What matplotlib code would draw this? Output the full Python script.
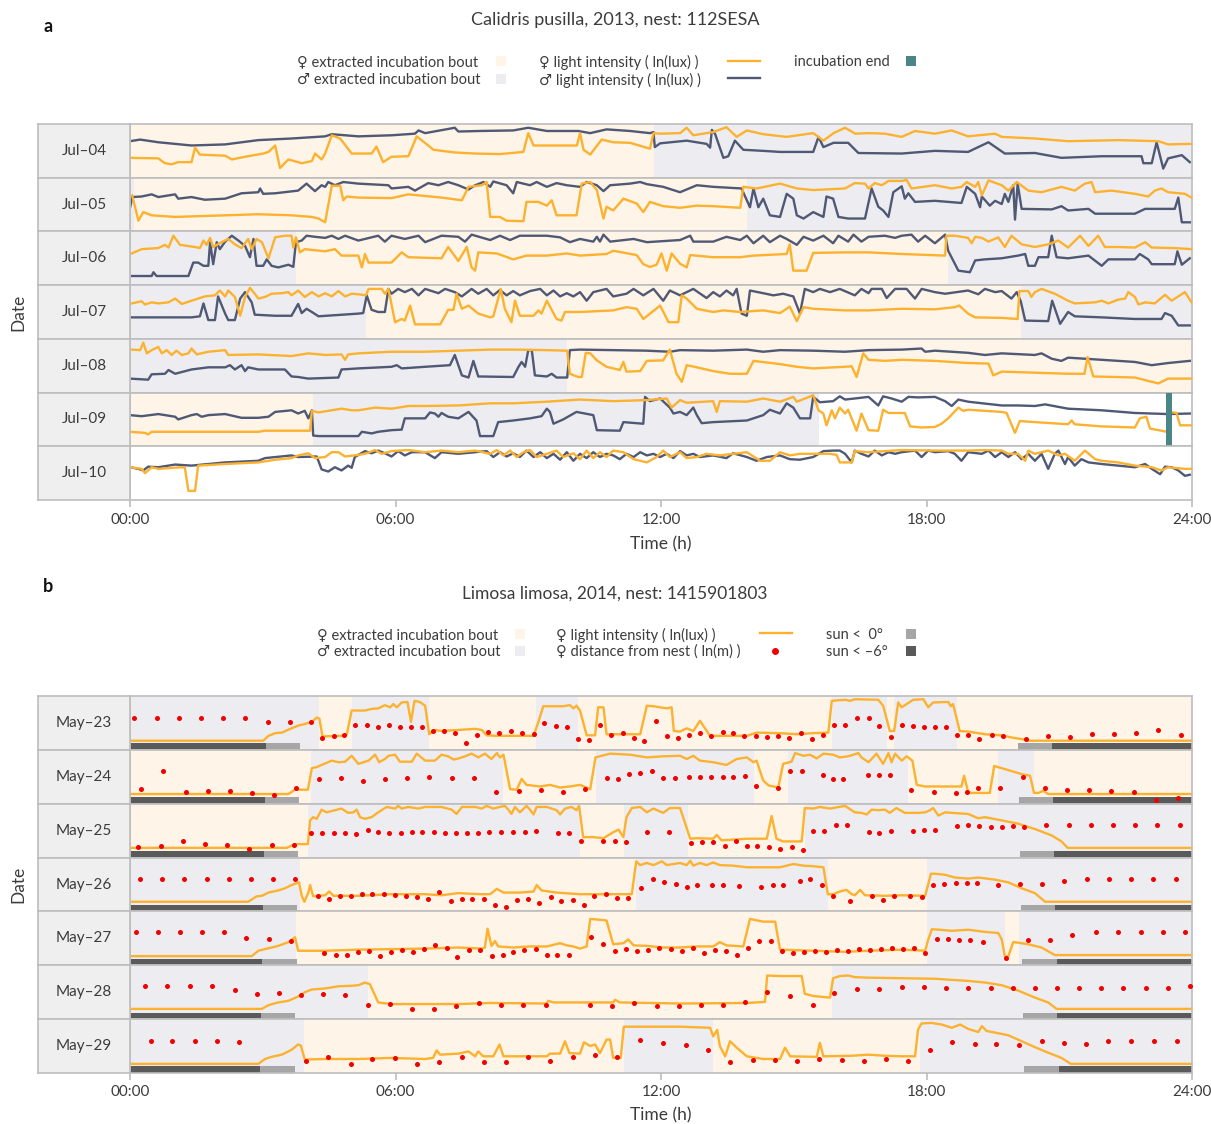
import matplotlib
matplotlib.use("Agg")
import matplotlib.pyplot as plt
from matplotlib.patches import Rectangle
from matplotlib.lines import Line2D

plt.rcParams['font.family'] = ['Lato', 'DejaVu Sans']

# ---------------- panel a : Calidris pusilla (hour, relative ln(lux)) ----------------
days_a = ["Jul–04", "Jul–05", "Jul–06", "Jul–07", "Jul–08", "Jul–09", "Jul–10"]

jul04_bouts = [(0, 11.84, 'f'), (11.84, 24, 'm')]
jul05_bouts = [(0, 0.08, 'm'), (0.08, 13.94, 'f'), (13.94, 24, 'm')]
jul06_bouts = [(0, 3.75, 'm'), (3.75, 18.49, 'f'), (18.49, 24, 'm')]
jul07_bouts = [(0, 5.33, 'm'), (5.33, 20.13, 'f'), (20.13, 24, 'm')]
jul08_bouts = [(0, 9.88, 'm'), (9.88, 24, 'f')]
jul09_bouts = [(0, 4.14, 'f'), (4.14, 15.56, 'm')]
jul10_bouts = []
incubation_end = (5, 23.41, 23.55)  # row index, start, end

jul04_f = [(0,3.7),(0.64,3.6),(0.79,2.7),(0.94,2.5),(1.09,2.9),(1.39,2.9),(1.47,5.6),(1.58,4.3),(2.15,4.1),(2.3,3.4),(2.6,3.9),(3.01,4.5),(3.13,4.8),(3.28,6.0),(3.39,1.8),(3.58,3.4),(3.88,2.7),(4.11,3.1),(4.18,4.5),(4.33,3.4),(4.41,4.5),(4.56,7.9),(4.75,7.3),(5.01,4.5),(5.46,4.5),(5.57,5.8),(5.72,2.9),(5.91,3.9),(6.29,4.0),(6.48,7.7),(6.86,5.2),(7.34,4.7),(7.8,4.5),(8.36,4.4),(8.89,4.8),(9.0,8.3),(9.12,6.0),(9.42,6.0),(10.1,6.0),(10.17,8.3),(10.25,5.2),(10.4,4.3),(10.66,7.1),(10.92,6.6),(11.3,6.5),(11.75,5.4),(11.83,8.3),(11.98,8.2),(12.43,8.3),(12.58,9.3),(12.73,7.9),(13.18,8.5),(13.48,9.4),(13.71,7.6),(13.94,8.8),(14.31,8.1),(14.84,7.6),(15.44,8.3),(15.67,6.9),(15.9,8.3),(16.16,9.3),(16.39,8.2),(16.69,8.3),(17.06,8.2),(17.44,7.6),(17.74,8.7),(18.19,8.2),(18.57,8.8),(18.94,7.7),(19.55,8.2),(19.7,7.6),(20.45,7.3),(21.2,6.8),(22.33,7.0),(23.24,6.8),(23.46,6.2),(23.99,6.3)]
jul04_m = [(0,6.8),(0.23,7.1),(0.64,6.6),(1.39,6.0),(2.15,6.2),(2.9,7.0),(3.65,7.3),(4.41,7.7),(4.56,8.1),(5.16,7.7),(5.91,7.9),(6.44,8.2),(6.52,8.8),(6.67,8.3),(7.34,9.3),(7.42,8.6),(7.91,8.7),(8.66,8.8),(9.0,9.3),(9.42,8.7),(10.13,8.7),(10.4,8.3),(10.77,9.0),(11.3,8.7),(11.75,8.3),(11.83,8.5),(11.86,5.7),(11.98,6.4),(12.58,6.9),(13.03,6.3),(13.11,5.6),(13.15,8.9),(13.22,8.2),(13.41,3.7),(13.52,4.0),(13.67,6.9),(13.86,5.2),(14.31,5.0),(14.69,4.8),(15.44,4.8),(15.56,7.6),(15.67,5.7),(15.9,6.5),(16.23,6.5),(16.46,4.6),(17.44,4.5),(18.19,5.0),(18.94,4.8),(19.4,6.6),(19.77,4.5),(20.45,4.6),(21.05,3.7),(21.96,4.0),(22.86,4.0),(22.9,2.7),(23.09,2.7),(23.2,6.6),(23.35,1.7),(23.46,3.6),(23.77,4.2),(23.95,2.9)]

jul05_f = [(0.05,6.7),(0.19,2.0),(0.3,3.6),(0.49,3.0),(1.02,2.7),(1.39,2.8),(2.15,3.0),(2.9,3.2),(3.65,3.0),(4.11,2.7),(4.26,2.4),(4.41,1.7),(4.56,8.5),(4.75,8.5),(4.82,5.8),(4.9,6.5),(5.16,6.3),(5.91,6.2),(6.29,6.9),(7.04,6.3),(7.5,5.8),(7.65,8.3),(7.95,8.6),(8.06,9.2),(8.14,2.7),(8.36,2.7),(8.51,2.0),(8.89,1.9),(8.96,5.5),(9.23,5.5),(9.42,4.8),(9.53,5.8),(9.64,3.0),(10.09,3.0),(10.21,8.9),(10.4,9.2),(10.55,7.7),(10.7,2.4),(10.77,4.6),(10.92,3.9),(11.15,6.1),(11.45,5.2),(11.6,3.6),(11.75,5.5),(12.05,4.7),(12.43,4.4),(12.81,4.8),(13.18,4.7),(13.79,4.4),(13.86,8.3),(14.16,8.0),(14.69,8.9),(15.07,8.0),(15.44,7.7),(16.16,8.0),(16.38,9.0),(16.61,8.9),(16.69,8.0),(16.83,9.0),(16.99,8.6),(17.14,9.4),(17.44,9.4),(17.55,9.6),(17.66,8.0),(18.19,8.6),(18.57,8.0),(18.79,8.3),(18.91,9.2),(19.1,8.3),(19.17,9.2),(19.25,6.7),(19.4,9.5),(19.7,8.6),(19.85,7.6),(20.04,9.2),(20.3,7.6),(20.6,7.3),(21.05,8.3),(21.35,7.6),(21.58,8.9),(21.73,9.2),(21.81,7.3),(22.18,7.6),(22.71,7.0),(23.01,6.5),(23.16,7.6),(23.31,8.0),(23.46,7.3),(23.84,7.0),(23.99,6.3)]
jul05_m = [(0,4.4),(0.05,6.4),(0.26,6.5),(0.49,6.9),(0.64,6.4),(1.02,6.9),(1.09,6.1),(1.39,6.4),(1.69,5.9),(2.15,6.1),(2.52,7.1),(2.9,7.3),(2.94,8.0),(3.01,7.0),(3.28,7.1),(3.8,7.6),(3.99,8.9),(4.18,7.5),(4.33,8.6),(4.41,8.3),(4.48,9.2),(4.63,8.6),(4.82,9.2),(5.16,8.9),(5.84,8.6),(5.91,8.0),(6.29,8.3),(6.44,7.6),(6.74,9.0),(6.97,8.6),(7.19,9.2),(7.42,8.6),(7.65,7.8),(7.8,8.6),(7.99,9.2),(8.14,8.3),(8.21,9.3),(8.51,8.6),(8.66,7.1),(8.74,9.2),(9.04,8.6),(9.19,9.2),(9.42,8.3),(9.64,9.0),(9.87,8.6),(10.17,8.3),(10.32,9.2),(10.55,8.6),(10.7,7.5),(10.85,8.6),(11.3,8.9),(11.53,9.2),(11.68,8.8),(12.05,8.3),(12.43,7.3),(12.81,8.6),(13.18,8.3),(13.82,8.0),(14.01,4.5),(14.09,8.0),(14.2,4.5),(14.31,6.1),(14.46,3.0),(14.69,2.7),(14.84,7.0),(14.99,6.1),(15.07,3.0),(15.22,2.4),(15.44,3.6),(15.67,2.7),(15.74,6.5),(15.89,6.1),(16.01,2.7),(16.23,2.4),(16.61,2.4),(16.76,8.0),(16.91,4.6),(17.02,3.9),(17.14,2.7),(17.25,7.3),(17.44,8.4),(17.51,6.1),(17.59,7.1),(17.74,5.5),(18.19,5.7),(18.79,5.3),(18.91,8.3),(19.1,7.0),(19.21,4.5),(19.25,6.5),(19.43,4.8),(19.55,5.7),(19.7,5.1),(19.77,7.0),(19.85,5.5),(19.96,8.6),(20.0,2.2),(20.06,8.9),(20.15,4.2),(20.83,4.1),(21.05,4.7),(21.2,3.9),(21.66,4.2),(21.81,3.3),(22.71,3.3),(22.94,4.2),(23.61,4.2),(23.69,6.3),(23.77,1.7),(23.95,1.7)]

jul06_f = [(0.04,5.9),(0.26,6.7),(0.64,6.9),(0.79,7.5),(0.87,7.0),(0.98,9.2),(1.13,7.5),(1.47,7.1),(1.58,6.9),(1.66,8.3),(1.73,7.5),(1.81,8.8),(1.88,7.1),(2.07,8.0),(2.22,8.6),(2.37,7.6),(2.52,6.9),(2.67,8.6),(2.75,6.7),(2.86,8.6),(2.98,8.0),(3.13,5.0),(3.28,8.9),(3.5,9.2),(3.65,9.2),(3.69,7.0),(3.75,8.9),(3.84,6.1),(3.95,6.7),(4.41,6.3),(4.63,6.7),(4.78,5.5),(5.16,5.5),(5.24,3.3),(5.31,5.8),(5.39,4.2),(5.91,4.2),(6.14,6.1),(6.29,5.2),(7.04,5.0),(7.19,7.1),(7.42,4.5),(7.61,7.1),(7.72,3.3),(7.8,2.7),(7.87,6.1),(8.29,5.9),(8.66,4.8),(8.96,5.5),(9.42,5.5),(9.87,5.9),(10.17,5.5),(10.77,5.8),(10.92,6.4),(11.45,5.6),(11.6,3.9),(11.75,3.4),(11.9,3.8),(12.01,5.9),(12.13,2.7),(12.24,5.9),(12.43,4.0),(12.58,3.3),(12.66,5.6),(13.18,5.2),(13.79,5.2),(14.09,5.5),(14.84,5.8),(14.91,7.6),(14.99,2.7),(15.29,2.7),(15.44,6.0),(16.16,6.1),(16.69,6.1),(17.44,5.8),(18.42,5.5),(18.45,9.2),(18.64,9.2),(18.94,8.8),(19.02,7.8),(19.1,9.0),(19.25,8.8),(19.4,8.1),(19.62,8.9),(19.77,7.1),(19.92,9.2),(20.15,7.6),(20.45,7.1),(20.75,7.6),(20.98,8.3),(21.2,7.0),(21.47,9.2),(21.66,7.3),(21.88,9.2),(22.03,7.1),(22.33,7.1),(22.71,7.0),(22.94,8.0),(23.09,7.0),(23.61,6.9),(23.99,6.7)]
jul06_m = [(0,1.7),(0.49,1.7),(0.53,2.4),(0.6,1.7),(1.32,1.7),(1.43,4.2),(1.54,4.2),(1.66,3.6),(1.77,3.6),(1.81,8.0),(1.88,3.9),(1.96,8.0),(2.03,6.7),(2.15,8.1),(2.3,9.2),(2.45,8.3),(2.6,7.3),(2.71,5.2),(2.79,8.6),(2.86,3.6),(3.01,3.6),(3.09,4.8),(3.2,3.6),(3.35,3.3),(3.58,3.8),(3.69,3.4),(3.75,8.0),(3.88,8.3),(3.99,9.2),(4.18,9.0),(4.41,8.8),(4.56,9.2),(4.71,8.6),(4.86,9.2),(5.16,8.3),(5.46,8.9),(5.61,9.2),(5.76,8.1),(5.91,9.2),(6.21,8.6),(6.52,9.2),(6.67,8.0),(7.04,9.2),(7.42,9.0),(7.57,8.1),(7.72,9.4),(8.14,8.4),(8.36,9.2),(8.59,8.4),(8.81,9.2),(9.42,9.2),(9.72,8.9),(9.94,8.0),(10.17,8.6),(10.47,8.1),(10.55,9.0),(10.62,8.1),(10.7,9.4),(10.85,8.1),(11.38,8.6),(11.68,8.0),(12.43,8.4),(12.66,9.2),(12.73,8.1),(13.18,8.1),(13.48,9.0),(13.79,8.4),(13.94,9.2),(14.09,7.8),(14.31,9.2),(14.46,8.0),(14.69,9.2),(14.84,8.6),(15.07,7.5),(15.22,9.0),(15.44,8.3),(15.67,9.2),(15.89,7.8),(16.01,9.2),(16.23,8.1),(16.35,9.4),(16.53,8.1),(16.69,9.0),(17.06,9.2),(17.29,8.8),(17.44,9.2),(17.66,9.4),(17.81,8.1),(17.97,9.2),(18.19,7.8),(18.42,9.4),(18.49,6.4),(18.72,2.7),(18.98,2.4),(19.1,4.6),(19.32,4.8),(19.7,5.0),(20.07,5.5),(20.23,5.8),(20.3,3.6),(20.45,3.6),(20.53,5.2),(20.75,5.2),(20.83,9.2),(20.94,5.2),(21.2,5.0),(21.66,5.5),(21.96,3.6),(22.11,4.8),(22.71,4.8),(22.82,5.8),(23.01,4.8),(23.09,3.9),(23.61,3.9),(23.67,6.3),(23.77,3.8),(23.95,5.0)]

jul07_f = [(0.04,6.6),(0.26,7.0),(0.34,6.4),(0.49,6.8),(0.64,6.6),(0.87,6.8),(1.02,7.5),(1.17,6.5),(1.39,7.1),(1.69,7.9),(1.92,8.1),(2.03,9.0),(2.15,7.9),(2.22,9.0),(2.37,7.8),(2.49,4.3),(2.6,7.8),(2.71,9.5),(2.82,8.4),(2.9,7.5),(3.05,7.8),(3.2,8.4),(3.43,8.5),(3.58,8.7),(3.65,8.1),(3.8,9.0),(3.95,7.8),(4.11,8.7),(4.26,7.9),(4.41,8.5),(4.56,7.9),(4.71,8.9),(4.86,7.9),(5.01,8.4),(5.16,8.3),(5.33,8.1),(5.39,9.3),(5.69,9.3),(5.76,8.4),(5.84,9.3),(5.99,3.1),(6.14,3.7),(6.21,3.4),(6.33,6.2),(6.44,2.7),(7.01,2.7),(7.19,5.4),(7.31,5.4),(7.38,8.4),(7.5,5.6),(7.65,6.2),(7.87,4.7),(8.14,4.0),(8.21,4.2),(8.38,9.3),(8.47,5.6),(8.62,3.1),(8.7,7.1),(8.81,4.3),(9.12,4.3),(9.23,5.3),(9.3,4.7),(9.42,7.1),(9.64,3.7),(9.75,3.4),(9.83,5.0),(10.17,5.0),(10.92,5.3),(11.22,5.9),(11.45,5.6),(11.6,3.7),(11.98,6.2),(12.17,3.1),(12.39,3.1),(12.47,8.1),(12.58,7.5),(12.81,5.6),(13.18,5.0),(13.41,5.3),(13.79,5.0),(14.31,5.3),(14.69,4.8),(14.91,6.0),(15.07,3.3),(15.22,5.9),(15.44,5.6),(16.16,5.3),(16.69,5.3),(17.44,5.6),(18.19,5.5),(18.64,5.9),(18.74,6.2),(18.94,4.7),(19.1,4.0),(19.7,3.9),(20.06,3.7),(20.1,8.9),(20.3,8.9),(20.37,7.8),(20.45,8.7),(20.6,9.3),(20.9,8.4),(21.2,7.1),(21.35,6.6),(21.81,6.8),(21.96,7.1),(22.11,6.6),(22.33,7.3),(22.49,7.5),(22.56,8.7),(22.71,7.8),(22.79,6.4),(22.94,6.8),(23.16,6.6),(23.39,8.2),(23.54,7.1),(23.84,8.7),(23.99,6.8)]
jul07_m = [(0,4.0),(1.39,4.0),(1.58,4.2),(1.66,6.6),(1.77,3.5),(1.92,3.5),(1.99,7.9),(2.15,4.7),(2.22,3.5),(2.37,3.5),(2.49,7.5),(2.6,8.7),(2.75,6.8),(2.82,4.5),(3.28,4.3),(3.65,4.3),(3.8,6.5),(3.88,4.8),(3.99,5.6),(4.11,5.0),(4.26,4.2),(5.16,4.7),(5.27,4.8),(5.35,8.1),(5.46,5.4),(5.61,5.0),(5.76,5.0),(5.84,9.3),(5.91,8.4),(6.06,9.3),(6.21,8.7),(6.37,9.3),(6.52,8.1),(6.67,9.3),(6.97,8.5),(7.12,9.3),(7.34,8.7),(7.5,7.9),(7.72,9.3),(7.87,8.4),(8.06,9.3),(8.21,8.1),(8.36,9.1),(8.51,8.1),(8.66,8.9),(8.81,8.1),(9.04,8.9),(9.27,9.3),(9.42,8.1),(9.57,9.0),(9.72,7.9),(9.87,8.5),(10.02,7.9),(10.17,8.7),(10.32,7.1),(10.47,8.7),(10.77,9.3),(10.92,7.9),(11.22,8.4),(11.38,9.3),(11.6,8.1),(11.83,9.3),(12.05,7.1),(12.2,9.0),(12.43,8.1),(12.73,9.3),(13.03,7.6),(13.18,8.7),(13.33,7.9),(13.48,9.0),(13.63,8.1),(13.71,9.3),(13.82,4.7),(13.94,4.3),(14.01,9.0),(14.31,8.5),(14.54,8.1),(14.76,8.4),(14.99,7.9),(15.14,4.7),(15.25,9.3),(15.44,8.7),(15.59,9.3),(15.82,8.7),(16.04,9.3),(16.38,8.1),(16.53,9.3),(16.69,8.5),(16.76,9.3),(16.99,9.3),(17.1,7.6),(17.29,9.3),(17.55,9.3),(17.74,7.5),(17.89,9.3),(18.19,8.7),(18.42,8.4),(18.94,9.0),(19.17,8.3),(19.32,9.3),(19.55,8.7),(19.7,8.9),(19.92,7.5),(20.04,8.7),(20.13,7.0),(20.23,3.4),(20.75,3.3),(20.84,7.1),(21.02,2.8),(21.2,5.0),(21.35,4.2),(21.96,4.0),(22.71,3.7),(23.31,3.7),(23.39,4.8),(23.54,4.3),(23.69,2.5),(23.95,2.5)]

jul08_f = [(0.04,8.0),(0.23,7.9),(0.3,9.3),(0.38,7.3),(0.49,7.9),(0.64,8.5),(0.72,7.3),(0.83,7.9),(0.94,7.0),(1.05,7.8),(1.17,7.0),(1.32,7.3),(1.39,8.2),(1.51,7.1),(1.77,7.6),(2.15,7.9),(2.22,7.0),(2.9,7.1),(3.65,6.8),(4.03,7.3),(4.41,7.0),(4.78,7.1),(4.86,6.1),(4.93,7.1),(5.16,7.3),(5.91,7.6),(6.67,7.6),(7.42,7.8),(8.14,8.0),(8.66,8.0),(9.42,7.9),(9.88,7.8),(9.94,3.5),(10.13,2.9),(10.21,2.9),(10.3,7.4),(10.4,7.3),(10.55,6.0),(10.77,4.8),(11.07,4.2),(11.15,5.7),(11.22,3.9),(11.53,4.0),(11.68,5.9),(12.05,6.0),(12.2,8.0),(12.35,3.5),(12.47,2.0),(12.58,5.1),(12.81,4.7),(13.18,4.0),(13.56,3.5),(13.94,3.5),(14.09,5.9),(14.69,5.3),(15.07,4.8),(15.44,4.5),(16.16,4.8),(16.31,4.9),(16.42,2.9),(16.57,7.3),(16.69,6.1),(17.06,5.9),(17.44,6.1),(18.19,5.9),(18.94,5.5),(19.4,5.4),(19.51,3.2),(19.7,3.9),(20.45,3.7),(21.2,3.5),(21.57,3.5),(21.64,6.6),(21.77,3.0),(22.71,2.8),(23.24,1.7),(23.46,2.6),(23.99,2.6)]
jul08_m = [(0,2.6),(0.41,2.4),(0.49,3.4),(0.79,3.5),(0.87,4.2),(1.02,3.5),(1.39,4.3),(1.77,4.7),(2.15,4.7),(2.26,5.1),(2.37,4.3),(2.52,5.1),(2.6,4.0),(2.67,4.7),(2.9,4.3),(3.5,4.3),(3.65,3.0),(3.8,2.9),(4.03,2.6),(4.71,2.8),(4.78,4.3),(5.16,4.5),(5.91,4.8),(6.03,5.1),(6.14,4.5),(6.67,4.8),(7.23,5.1),(7.34,7.0),(7.5,3.2),(7.65,2.8),(7.76,5.9),(7.87,3.0),(8.66,2.9),(8.78,4.8),(8.85,5.7),(8.93,4.8),(9.0,7.9),(9.08,7.9),(9.15,3.2),(9.42,3.0),(9.53,3.5),(9.64,2.8),(9.88,2.8),(9.94,7.9),(10.17,8.0),(10.92,7.9),(11.68,7.8),(12.2,7.6),(12.43,7.9),(13.18,7.8),(13.94,8.0),(14.31,7.6),(14.69,7.9),(15.44,7.8),(16.16,7.6),(16.69,7.9),(17.44,8.0),(17.89,8.2),(17.97,7.6),(18.19,7.8),(18.94,7.4),(19.32,7.0),(19.7,7.3),(20.45,7.0),(20.6,7.3),(20.83,6.3),(21.05,5.9),(21.2,6.5),(21.96,6.1),(22.71,5.7),(23.09,5.1),(23.46,5.5),(23.95,5.9)]

jul09_f = [(0,2.7),(0.34,2.5),(0.41,2.2),(0.49,2.7),(1.39,2.7),(2.9,2.7),(3.05,2.9),(4.07,2.9),(4.11,6.6),(4.26,6.3),(4.78,7.0),(5.01,6.7),(5.16,6.7),(5.54,7.2),(5.91,7.0),(6.29,7.5),(6.67,7.5),(7.42,7.6),(8.14,8.0),(8.66,8.0),(9.42,8.3),(10.17,8.7),(10.92,8.4),(11.68,8.6),(12.13,8.9),(12.24,7.2),(12.43,8.6),(12.58,8.1),(13.18,8.4),(13.26,6.4),(13.33,8.4),(13.94,8.3),(14.31,8.9),(14.69,8.3),(14.99,9.2),(15.07,8.3),(15.44,9.5),(15.56,6.7),(15.67,6.1),(15.74,3.9),(15.86,6.7),(15.93,5.2),(16.04,7.2),(16.16,6.1),(16.23,6.8),(16.42,2.9),(16.53,6.1),(16.69,3.0),(16.91,2.9),(17.02,6.8),(17.14,6.2),(17.51,6.2),(17.63,3.7),(17.89,3.5),(18.19,3.6),(18.34,4.2),(18.49,5.2),(18.72,7.2),(18.83,6.6),(18.94,6.8),(19.7,6.4),(19.81,6.2),(20.0,2.5),(20.11,4.7),(20.45,4.5),(21.2,4.1),(21.28,4.8),(21.35,4.1),(21.96,3.7),(22.71,3.5),(22.82,5.2),(22.97,5.5),(23.05,3.3),(23.31,2.9),(23.43,2.7),(23.5,6.4),(23.65,6.2),(23.73,3.9),(23.99,3.9)]
jul09_m = [(0,5.8),(0.26,5.6),(0.64,6.0),(1.02,5.5),(1.09,5.0),(1.39,5.8),(1.51,6.0),(1.62,5.5),(1.77,5.8),(2.15,6.0),(2.52,5.3),(2.9,5.3),(3.13,5.5),(3.28,6.4),(3.65,6.7),(3.8,6.1),(3.95,6.6),(4.03,5.2),(4.11,6.7),(4.14,2.0),(4.26,1.9),(5.16,1.9),(5.24,2.7),(5.46,2.4),(5.61,2.7),(5.91,3.0),(6.14,3.1),(6.21,5.2),(6.67,5.2),(6.78,6.3),(6.89,6.1),(6.97,5.5),(7.04,6.2),(7.19,5.5),(7.42,5.2),(7.65,6.4),(7.83,4.8),(7.91,1.9),(8.21,1.9),(8.32,4.5),(8.66,4.8),(9.04,5.2),(9.3,5.6),(9.42,7.0),(9.49,6.4),(9.57,4.2),(9.79,5.0),(10.09,6.4),(10.47,5.8),(10.55,3.0),(11.07,2.9),(11.15,4.5),(11.6,4.2),(11.64,9.2),(11.75,8.4),(11.98,8.9),(12.2,7.2),(12.28,6.1),(12.43,6.4),(12.58,5.8),(12.73,7.2),(12.81,5.8),(12.92,4.3),(13.18,4.5),(13.94,4.8),(14.31,5.8),(14.46,6.8),(14.69,6.1),(14.84,8.0),(14.99,7.2),(15.14,5.2),(15.37,5.2),(15.44,9.2),(15.59,8.2),(15.89,8.4),(16.04,9.3),(16.16,8.7),(16.38,8.9),(16.69,9.2),(16.91,7.6),(17.02,9.3),(17.21,8.9),(17.44,8.3),(17.59,9.2),(17.81,9.1),(18.19,9.2),(18.42,8.4),(18.57,7.5),(18.72,8.7),(18.94,8.3),(19.7,7.6),(20.07,7.6),(20.45,7.5),(20.68,7.8),(21.2,7.0),(21.96,6.7),(22.71,6.2),(23.46,6.0),(23.95,6.1)]

jul10_f = [(0,6.1),(0.26,5.8),(0.34,5.0),(0.49,6.1),(0.64,5.8),(1.17,6.1),(1.24,6.0),(1.32,1.7),(1.47,1.7),(1.54,6.4),(2.15,6.7),(2.9,7.0),(3.28,7.5),(3.65,7.8),(3.8,8.3),(4.03,8.7),(4.18,7.8),(4.41,8.0),(4.56,8.9),(4.71,8.9),(4.86,8.1),(5.16,8.4),(5.31,8.6),(5.54,9.3),(5.69,8.6),(5.91,9.1),(6.29,9.3),(6.67,8.9),(7.04,9.2),(7.42,8.9),(7.8,9.2),(8.14,8.6),(8.29,9.3),(8.44,8.3),(8.59,9.2),(8.74,8.0),(8.89,8.9),(9.04,9.3),(9.19,8.0),(9.42,8.6),(9.64,9.2),(9.79,8.0),(10.02,8.7),(10.17,7.6),(10.32,9.2),(10.47,7.8),(10.62,8.9),(10.77,8.0),(10.92,9.2),(11.15,8.9),(11.38,7.6),(11.68,7.0),(11.9,8.0),(12.05,9.2),(12.2,8.0),(12.43,8.9),(12.58,7.8),(12.81,8.0),(13.03,8.6),(13.33,8.3),(13.63,8.6),(13.94,8.9),(14.24,7.3),(14.46,7.3),(14.69,8.9),(14.91,8.3),(15.14,8.6),(15.44,8.6),(15.82,8.6),(15.97,8.4),(16.04,7.0),(16.31,7.0),(16.38,9.1),(16.69,8.9),(17.06,9.1),(17.44,9.3),(18.19,9.2),(18.94,9.2),(19.32,9.3),(19.7,9.2),(19.85,8.6),(20.07,8.6),(20.23,7.3),(20.3,9.2),(20.45,8.6),(20.75,9.2),(20.98,8.3),(21.13,8.6),(21.35,7.3),(21.58,9.2),(21.81,7.6),(21.96,7.3),(22.33,7.0),(22.71,6.4),(23.09,6.1),(23.31,5.5),(23.46,6.1),(23.84,5.8),(23.99,5.8)]
jul10_m = [(0,6.1),(0.19,5.8),(0.3,5.5),(0.41,6.2),(0.64,6.1),(1.02,6.6),(1.39,6.4),(2.15,7.0),(2.9,7.3),(3.05,7.8),(3.65,8.3),(3.8,8.0),(4.22,8.1),(4.33,5.7),(4.48,5.3),(4.63,6.1),(4.78,5.5),(4.93,6.4),(5.01,6.0),(5.08,8.0),(5.31,9.1),(5.46,8.7),(5.61,9.2),(5.76,8.7),(5.91,8.1),(6.06,9.1),(6.21,8.3),(6.37,8.9),(6.67,8.9),(6.89,7.8),(7.04,8.9),(7.42,8.6),(7.8,8.9),(8.06,9.1),(8.21,8.0),(8.36,8.9),(8.51,8.1),(8.66,8.7),(8.81,8.0),(8.96,9.2),(9.12,8.0),(9.27,8.9),(9.42,7.8),(9.57,8.6),(9.72,7.5),(9.87,8.9),(10.02,7.3),(10.17,8.6),(10.32,7.8),(10.47,8.9),(10.62,8.0),(10.77,8.6),(10.92,8.3),(11.07,7.6),(11.22,8.6),(11.38,8.0),(11.53,8.9),(11.68,8.3),(11.83,8.6),(11.98,8.0),(12.13,8.6),(12.28,7.8),(12.43,9.1),(12.58,8.3),(12.73,8.6),(12.88,8.0),(13.18,8.3),(13.48,7.8),(13.63,8.7),(13.94,8.0),(14.16,7.3),(14.39,8.0),(14.69,8.3),(14.91,7.6),(15.14,7.5),(15.44,8.0),(15.67,9.1),(15.89,9.2),(16.04,9.2),(16.16,8.6),(16.31,7.0),(16.38,9.2),(16.53,8.6),(16.69,8.1),(16.83,9.2),(16.99,8.3),(17.14,8.9),(17.29,8.6),(17.44,8.9),(17.74,9.2),(17.89,8.0),(18.04,9.2),(18.19,8.9),(18.49,9.1),(18.64,8.6),(18.79,7.3),(18.94,8.9),(19.25,8.6),(19.4,9.2),(19.55,8.0),(19.7,8.9),(19.85,8.0),(20.0,8.9),(20.15,7.6),(20.3,8.6),(20.45,7.3),(20.6,8.6),(20.75,5.8),(20.9,8.6),(20.98,9.2),(21.13,6.7),(21.2,8.0),(21.35,6.4),(21.5,7.6),(21.66,7.0),(21.96,6.7),(22.33,6.4),(22.71,6.1),(22.94,6.7),(23.09,5.8),(23.28,4.8),(23.39,6.2),(23.54,6.1),(23.69,5.5),(23.84,4.5),(23.95,4.7)]

# ---------------- panel b : Limosa limosa ----------------
days_b = ["May–23", "May–24", "May–25", "May–26", "May–27", "May–28", "May–29"]

may23_bouts = [(0,4.27,'m'),(4.27,5.01,'f'),(5.01,6.76,'m'),(6.76,9.18,'f'),(9.18,10.12,'m'),(10.12,15.86,'f'),(15.86,17.1,'m'),(17.1,17.27,'f'),(17.27,18.68,'m'),(18.68,24,'f')]
may24_bouts = [(0,4.09,'f'),(4.09,8.44,'m'),(8.44,10.52,'f'),(10.52,14.1,'m'),(14.1,14.86,'f'),(14.86,17.59,'m'),(17.59,19.61,'f'),(19.61,20.43,'m'),(20.43,24,'f')]
may25_bouts = [(0,4.02,'f'),(4.02,10.17,'m'),(10.17,11.17,'f'),(11.17,12.6,'m'),(12.6,15.25,'f'),(15.25,24,'m')]
may26_bouts = [(0,3.84,'m'),(3.84,11.44,'f'),(11.44,15.77,'m'),(15.77,18.02,'f'),(18.02,24,'m')]
may27_bouts = [(0,3.75,'m'),(3.75,18.02,'f'),(18.02,19.77,'m'),(19.77,20.1,'f'),(20.1,24,'m')]
may28_bouts = [(0,5.37,'m'),(5.37,15.87,'f'),(15.87,24,'m')]
may29_bouts = [(0,3.93,'m'),(3.93,11.17,'f'),(11.17,13.18,'m'),(13.18,17.85,'f'),(17.85,24,'m')]

# sun below -6 deg ends / sun below 0 ends (morning), sun below 0 / below -6 starts (evening)
sun_dawn6 = [3.08, 3.05, 3.03, 3.01, 2.98, 2.96, 2.94]
sun_rise0 = [3.84, 3.82, 3.80, 3.78, 3.77, 3.74, 3.73]
sun_set0 = [20.06, 20.09, 20.11, 20.13, 20.16, 20.18, 20.20]
sun_dusk6 = [20.83, 20.86, 20.89, 20.91, 20.94, 20.96, 20.99]

may23_light = [(0,1.7),(3.01,1.7),(3.13,2.6),(3.28,3.1),(3.43,3.2),(3.65,4.0),(3.8,4.5),(3.95,4.8),(4.11,5.2),(4.22,6.0),(4.28,5.8),(4.35,2.5),(4.78,2.6),(4.9,2.9),(5.01,7.3),(5.31,7.3),(5.46,7.6),(5.61,7.7),(5.76,8.3),(5.88,7.9),(5.95,8.5),(6.03,7.9),(6.14,8.8),(6.27,8.9),(6.35,5.2),(6.43,9.1),(6.55,8.9),(6.67,8.2),(6.76,2.9),(6.89,3.7),(7.04,3.5),(7.42,3.7),(7.8,3.9),(7.95,3.7),(8.06,2.7),(8.29,2.6),(9.12,2.6),(9.23,5.2),(9.34,8.1),(9.79,8.1),(9.94,8.3),(10.02,7.7),(10.09,8.2),(10.17,7.3),(10.32,2.7),(10.51,2.7),(10.58,7.9),(10.7,7.9),(10.77,2.9),(11.53,2.9),(11.68,8.2),(11.83,8.1),(12.13,7.7),(12.24,7.9),(12.29,3.5),(12.43,3.4),(12.58,4.0),(12.73,3.5),(12.88,5.4),(13.11,2.6),(13.94,2.6),(14.16,3.2),(14.69,3.1),(15.07,2.9),(15.44,3.1),(15.78,3.2),(15.86,9.1),(16.16,9.3),(16.27,9.1),(16.38,9.4),(16.91,9.3),(17.02,8.2),(17.17,3.5),(17.27,3.5),(17.36,8.8),(17.44,7.9),(17.55,8.5),(17.7,9.3),(17.93,9.4),(18.04,7.9),(18.15,8.8),(18.49,8.9),(18.55,8.1),(18.6,8.5),(18.75,3.5),(18.94,3.4),(19.32,2.9),(19.7,2.7),(19.92,2.3),(20.15,2.0),(20.3,1.7),(24,1.7)]
may23_dist = [(0.1,6.0),(0.6,6.0),(1.11,6.0),(1.6,6.0),(2.1,6.0),(2.61,5.9),(3.11,5.1),(3.61,5.1),(4.08,5.1),(4.33,2.2),(4.6,2.6),(4.84,2.7),(5.08,4.6),(5.35,4.6),(5.61,4.3),(5.85,4.6),(6.1,4.3),(6.35,4.3),(6.59,4.3),(6.85,3.5),(7.1,3.5),(7.34,3.2),(7.6,1.2),(7.85,2.7),(8.1,3.4),(8.35,3.1),(8.6,3.5),(8.87,3.2),(9.12,2.9),(9.36,5.0),(9.62,4.5),(9.87,4.3),(10.12,2.0),(10.38,1.9),(10.62,4.6),(10.87,2.7),(11.13,3.1),(11.38,2.2),(11.62,1.7),(11.88,5.4),(12.13,2.5),(12.39,2.2),(12.64,2.7),(12.88,3.1),(13.13,2.6),(13.39,3.4),(13.63,3.2),(13.88,2.6),(14.15,2.6),(14.4,2.4),(14.65,2.6),(14.9,2.2),(15.16,3.1),(15.41,2.1),(15.65,2.7),(15.91,4.7),(16.16,4.7),(16.42,6.0),(16.69,6.0),(16.93,4.5),(17.2,2.4),(17.44,4.6),(17.69,4.5),(17.94,4.3),(18.19,4.3),(18.44,4.3),(18.69,2.7),(18.94,2.7),(19.19,2.0),(19.47,2.7),(19.73,2.6),(20.24,2.0),(20.74,2.5),(21.24,2.3),(21.73,2.9),(22.24,2.9),(22.73,3.1),(23.24,3.7),(23.75,2.7)]

may24_light = [(0,1.8),(3.58,1.8),(3.73,2.6),(4.02,2.6),(4.11,6.6),(4.22,6.8),(4.33,7.2),(4.56,8.0),(4.71,7.7),(4.86,7.8),(5.01,8.9),(5.16,7.4),(5.39,8.0),(5.54,9.1),(5.63,7.7),(5.76,8.3),(5.84,8.9),(5.99,9.1),(6.1,7.8),(6.37,7.8),(6.48,9.3),(6.67,8.0),(6.89,8.0),(7.04,9.1),(7.19,8.8),(7.31,8.2),(7.42,8.4),(7.57,8.8),(7.72,9.3),(7.87,8.6),(8.02,9.3),(8.17,8.3),(8.29,9.4),(8.36,8.6),(8.44,9.1),(8.59,2.7),(8.74,2.6),(8.85,4.6),(8.96,3.5),(9.27,3.2),(9.49,3.5),(9.72,3.0),(9.94,3.2),(10.17,3.5),(10.4,2.7),(10.52,8.6),(10.85,9.3),(11.3,9.1),(11.68,8.6),(12.05,8.8),(12.43,8.9),(12.58,8.3),(12.73,8.9),(12.88,8.0),(13.18,7.7),(13.48,7.2),(13.71,8.3),(13.94,8.6),(14.09,7.7),(14.16,8.0),(14.31,4.3),(14.43,3.4),(14.65,3.0),(14.76,7.4),(14.95,7.8),(15.03,9.4),(15.22,8.9),(15.37,9.1),(15.52,8.4),(15.67,9.3),(15.89,9.1),(16.04,8.6),(16.23,8.8),(16.46,9.4),(16.53,8.6),(16.69,7.7),(16.87,9.3),(17.02,7.4),(17.14,9.4),(17.21,7.7),(17.29,9.3),(17.44,8.0),(17.55,8.8),(17.68,8.0),(17.78,3.5),(17.97,3.2),(18.79,3.2),(18.85,5.2),(18.94,2.2),(19.02,2.0),(19.43,2.0),(19.53,7.0),(19.7,6.6),(20.15,5.5),(20.34,5.2),(20.43,2.0),(20.53,2.0),(20.64,2.4),(20.75,1.8),(24,1.8)]
may24_dist = [(0.24,2.7),(0.75,6.0),(1.26,2.2),(1.76,2.4),(2.25,2.4),(2.76,2.0),(3.26,1.6),(3.76,3.0),(4.26,4.5),(4.76,4.8),(5.27,4.3),(5.76,4.5),(6.26,4.8),(6.76,5.0),(7.27,4.8),(7.77,4.7),(8.27,2.1),(8.78,2.4),(9.29,2.5),(9.78,2.2),(10.28,2.7),(10.77,4.7),(11.02,4.6),(11.28,5.6),(11.53,5.7),(11.8,6.0),(12.05,4.7),(12.32,4.7),(12.63,4.9),(12.88,4.9),(13.14,5.0),(13.39,5.0),(13.63,5.0),(13.89,5.1),(14.15,3.2),(14.64,2.9),(14.92,6.0),(15.18,6.0),(15.65,5.3),(15.89,4.5),(16.12,4.5),(16.67,5.3),(16.93,5.3),(17.18,5.3),(17.66,2.6),(18.17,2.2),(18.66,2.0),(18.92,2.1),(19.17,3.0),(19.67,3.0),(20.17,4.9),(20.68,3.0),(21.18,2.6),(21.68,2.6),(22.18,2.4),(22.68,2.2),(23.18,0.7),(23.69,1.1)]

may25_light = [(0,1.8),(3.54,1.8),(3.73,2.5),(4.02,2.5),(4.07,6.9),(4.14,7.5),(4.22,7.2),(4.33,8.9),(4.44,8.4),(4.78,9.1),(4.93,8.3),(5.05,8.4),(5.12,8.9),(5.2,7.5),(5.31,7.2),(5.46,7.5),(5.61,8.4),(5.8,9.4),(5.99,9.1),(6.06,9.6),(6.14,9.1),(6.29,9.4),(6.52,9.1),(6.67,9.4),(7.04,9.4),(7.27,8.9),(7.38,8.1),(7.5,9.4),(7.8,9.4),(7.95,9.1),(8.06,9.6),(8.21,9.1),(8.36,9.4),(8.47,9.6),(8.55,8.9),(8.62,8.1),(8.7,9.4),(8.81,8.4),(8.96,9.6),(9.04,8.9),(9.12,8.0),(9.19,9.4),(9.42,9.4),(9.64,8.8),(9.72,8.0),(9.83,9.1),(9.98,9.4),(10.09,8.8),(10.15,9.6),(10.24,3.8),(10.47,3.8),(10.7,3.6),(10.92,4.7),(11.04,5.2),(11.15,3.8),(11.22,7.5),(11.34,9.2),(11.53,9.4),(11.68,8.4),(11.83,9.1),(12.05,8.3),(12.2,9.2),(12.43,9.2),(12.5,7.5),(12.66,3.5),(12.81,3.6),(13.18,3.5),(13.26,4.2),(13.37,3.2),(13.94,3.5),(14.39,3.5),(14.5,7.7),(14.61,3.5),(14.76,3.0),(15.18,3.0),(15.25,9.2),(15.44,9.1),(15.59,9.4),(15.82,9.1),(16.16,9.6),(16.38,8.4),(16.53,8.3),(16.65,8.0),(16.76,8.9),(16.91,8.8),(17.06,8.9),(17.17,8.3),(17.32,9.2),(17.51,8.3),(17.81,8.3),(17.97,8.4),(18.08,8.8),(18.15,9.2),(18.27,7.8),(18.42,8.4),(18.57,8.3),(18.94,8.1),(19.17,7.3),(19.32,7.5),(19.7,6.9),(20.07,6.3),(20.45,5.3),(20.83,4.1),(21.05,3.0),(21.19,1.8),(24,1.8)]
may25_dist = [(0.19,1.9),(0.69,2.1),(1.19,3.0),(1.69,2.5),(2.2,2.4),(2.7,1.6),(3.2,2.4),(3.71,2.4),(4.08,4.6),(4.35,4.6),(4.6,4.6),(4.86,4.6),(5.1,4.3),(5.37,5.1),(5.61,4.7),(5.86,4.5),(6.12,4.5),(6.37,4.7),(6.61,4.8),(6.87,4.8),(7.12,4.5),(7.37,4.5),(7.62,4.6),(7.87,4.6),(8.11,4.8),(8.38,4.8),(8.66,4.8),(8.93,4.8),(9.18,5.0),(9.68,4.6),(9.93,4.6),(10.19,3.0),(10.7,3.0),(10.95,3.0),(11.2,2.9),(11.69,4.7),(12.19,4.7),(12.68,2.7),(12.93,2.9),(13.18,2.9),(13.45,2.2),(13.7,3.0),(13.94,2.1),(14.18,2.2),(14.45,2.0),(14.7,1.6),(14.95,2.0),(15.2,1.4),(15.44,5.0),(15.69,5.0),(15.95,6.1),(16.21,6.1),(16.69,4.8),(16.93,4.6),(17.19,5.0),(17.69,5.0),(17.94,5.1),(18.19,5.1),(18.69,5.8),(18.94,6.1),(19.19,5.8),(19.45,5.7),(19.7,5.7),(19.96,5.8),(20.21,5.7),(20.71,6.1),(21.22,6.1),(21.72,6.1),(22.22,6.1),(22.71,6.1),(23.22,6.1),(23.73,6.1)]

may26_light = [(0,1.8),(2.67,1.8),(2.86,2.8),(2.98,2.9),(3.13,3.5),(3.35,3.9),(3.5,4.3),(3.65,4.9),(3.82,5.4),(3.88,2.9),(3.94,1.8),(4.03,3.5),(4.07,4.9),(4.14,2.8),(4.26,2.9),(4.41,3.0),(4.5,3.7),(4.6,2.9),(5.16,2.9),(5.91,3.2),(6.67,3.2),(7.04,3.0),(7.42,3.4),(7.91,3.2),(8.14,3.2),(8.29,4.2),(8.44,3.5),(8.81,3.5),(9.12,3.7),(9.19,4.9),(9.3,3.9),(9.64,3.5),(10.17,3.2),(10.92,3.2),(11.34,3.2),(11.44,9.3),(11.53,8.6),(11.68,9.0),(11.83,8.6),(12.02,9.3),(12.13,8.6),(12.43,9.0),(12.58,8.6),(12.66,9.4),(12.73,8.5),(12.88,9.0),(13.03,8.6),(13.18,9.1),(13.33,8.6),(13.63,8.5),(13.94,8.2),(14.69,8.2),(14.99,8.8),(15.22,8.5),(15.44,8.4),(15.67,8.2),(15.77,3.2),(15.89,3.2),(16.04,3.7),(16.19,4.0),(16.31,3.2),(16.38,3.0),(16.5,4.0),(16.61,3.0),(17.06,2.9),(17.44,3.0),(17.97,2.9),(18.04,5.1),(18.1,7.0),(18.19,7.0),(18.42,6.8),(18.64,6.3),(18.94,6.1),(19.17,6.3),(19.55,5.9),(19.85,5.4),(20.15,4.3),(20.45,3.4),(20.68,1.8),(24,1.8)]
may26_dist = [(0.23,6.0),(0.73,6.0),(1.23,6.0),(1.73,6.0),(2.24,6.0),(2.73,6.0),(3.24,6.0),(3.74,6.0),(4.24,2.9),(4.5,2.3),(4.75,2.9),(4.99,2.9),(5.24,3.2),(5.48,3.2),(5.75,3.2),(5.99,3.1),(6.24,2.9),(6.49,2.7),(6.74,2.3),(6.99,3.7),(7.25,1.9),(7.5,2.3),(7.74,2.4),(8.0,2.4),(8.25,1.2),(8.5,0.9),(8.75,2.2),(9.0,2.4),(9.25,1.6),(9.51,2.7),(9.75,2.0),(10.0,2.2),(10.26,1.2),(10.49,2.8),(10.75,3.2),(11.0,2.5),(11.26,2.5),(11.55,4.3),(11.81,6.0),(12.07,5.5),(12.33,5.1),(12.58,4.5),(12.82,5.0),(13.15,5.0),(13.39,5.0),(13.76,4.8),(14.26,4.5),(14.52,5.0),(14.76,5.0),(15.13,5.6),(15.37,6.0),(15.63,5.0),(15.89,2.9),(16.27,2.0),(16.76,2.9),(17.02,2.2),(17.27,2.9),(17.63,2.9),(17.89,2.7),(18.14,5.0),(18.39,5.1),(18.66,5.2),(18.91,5.2),(19.15,5.2),(19.61,5.0),(20.11,5.1),(20.62,5.1),(21.11,5.7),(21.62,6.0),(22.12,6.0),(22.62,6.0),(23.12,6.0),(23.63,6.0)]

may27_light = [(0,1.7),(2.75,1.7),(2.9,2.7),(3.05,3.0),(3.2,3.3),(3.35,3.6),(3.58,4.3),(3.73,5.2),(3.8,2.7),(4.41,2.7),(5.16,2.9),(5.91,3.0),(6.67,3.1),(7.42,3.3),(7.95,3.1),(8.02,3.3),(8.08,6.8),(8.17,3.6),(8.25,4.5),(8.32,3.5),(8.66,3.3),(9.04,3.5),(9.42,3.5),(9.72,4.1),(9.87,3.7),(10.02,3.5),(10.17,3.1),(10.32,3.5),(10.4,8.6),(10.7,8.4),(10.77,8.3),(10.92,3.9),(11.15,4.1),(11.26,4.8),(11.38,3.7),(11.68,3.6),(12.05,3.3),(12.43,3.3),(12.81,3.5),(13.18,3.5),(13.33,4.3),(13.48,3.7),(13.86,3.5),(14.01,8.6),(14.31,8.1),(14.58,8.1),(14.69,2.9),(15.44,2.7),(16.16,2.5),(16.69,2.7),(17.44,2.9),(17.97,2.7),(18.04,4.8),(18.12,6.7),(18.3,6.6),(18.57,6.4),(18.94,6.6),(19.32,6.2),(19.62,6.0),(19.7,4.8),(19.77,1.7),(19.85,1.7),(19.96,4.3),(20.07,4.2),(20.3,3.9),(20.6,3.3),(20.9,1.9),(24,1.9)]
may27_dist = [(0.13,6.1),(0.63,6.1),(1.13,6.1),(1.63,6.1),(2.12,6.1),(2.62,5.1),(3.13,4.8),(3.63,4.5),(4.38,2.2),(4.65,1.9),(4.9,1.9),(5.15,2.4),(5.4,2.7),(5.65,1.7),(5.9,2.4),(6.15,2.9),(6.4,2.5),(6.65,3.0),(6.89,3.8),(7.16,3.3),(7.4,1.6),(7.66,2.8),(7.92,2.9),(8.17,1.7),(8.42,2.0),(8.66,2.4),(8.91,2.9),(9.18,3.0),(9.42,2.0),(9.66,2.0),(9.92,1.9),(10.42,5.2),(10.7,3.9),(10.96,2.7),(11.21,3.0),(11.45,2.7),(11.71,2.9),(11.96,3.3),(12.22,3.0),(12.47,2.7),(12.72,3.3),(12.97,2.2),(13.22,2.9),(13.47,2.7),(13.71,1.9),(13.97,3.3),(14.22,4.5),(14.48,4.5),(14.73,2.7),(14.98,2.2),(15.23,2.5),(15.48,2.7),(15.73,2.5),(15.97,2.8),(16.22,2.6),(16.47,3.1),(16.72,2.9),(16.97,3.0),(17.23,3.2),(17.48,3.0),(17.72,3.2),(17.97,2.2),(18.23,4.8),(18.49,4.8),(18.74,4.7),(18.98,4.7),(19.28,4.4),(19.79,1.4),(20.29,4.7),(20.79,4.7),(21.29,5.7),(21.82,6.1),(22.32,6.1),(22.84,6.1),(23.34,6.1),(23.84,6.1)]

may28_light = [(0,1.9),(2.98,1.9),(3.13,2.6),(3.35,3.1),(3.58,3.4),(3.8,4.2),(3.95,5.0),(4.11,5.5),(4.41,5.7),(4.71,6.1),(5.01,6.2),(5.16,6.3),(5.31,6.8),(5.42,6.5),(5.61,3.1),(5.91,2.8),(6.67,2.8),(7.42,2.8),(8.14,3.0),(9.42,2.9),(9.45,3.4),(9.57,3.1),(10.92,3.1),(10.96,3.6),(11.07,3.1),(12.43,2.9),(13.94,3.0),(14.35,3.2),(14.4,8.1),(14.69,8.0),(15.18,8.0),(15.25,4.7),(15.44,4.3),(15.82,4.0),(15.89,7.6),(16.04,8.0),(16.23,8.1),(16.38,7.8),(16.69,7.7),(17.44,7.6),(18.19,7.5),(18.94,7.1),(19.32,6.8),(19.7,6.3),(20.07,5.3),(20.45,4.0),(20.75,3.1),(20.94,1.9),(24,1.9)]
may28_dist = [(0.34,6.1),(0.84,6.1),(1.36,6.1),(1.86,6.1),(2.37,5.5),(2.87,4.7),(3.37,4.8),(3.86,4.5),(4.37,4.6),(4.87,4.5),(5.37,2.7),(5.87,2.9),(6.37,1.9),(6.88,1.9),(7.37,2.4),(7.89,3.0),(8.38,2.7),(8.89,2.7),(9.39,2.6),(10.4,2.7),(10.89,2.4),(11.4,3.0),(11.9,2.4),(12.4,2.5),(12.9,2.7),(13.39,2.7),(13.9,3.1),(14.4,5.0),(14.92,4.3),(15.43,2.6),(15.92,4.8),(16.42,5.6),(16.93,5.6),(17.44,5.9),(17.94,5.9),(18.44,5.7),(18.94,5.7),(19.45,5.7),(19.95,5.7),(20.45,5.7),(20.95,5.7),(21.45,5.8),(21.94,5.8),(22.45,5.8),(22.95,5.8),(23.45,5.8),(23.95,6.1)]

may29_light = [(0,1.7),(2.9,1.7),(3.05,2.6),(3.2,3.0),(3.43,3.4),(3.65,4.3),(3.8,5.3),(3.86,5.1),(3.95,2.5),(4.41,2.6),(5.16,2.6),(5.91,2.8),(6.67,2.6),(6.85,2.8),(6.93,4.2),(7.01,3.4),(7.42,3.6),(7.65,4.0),(7.8,3.1),(7.87,4.0),(7.98,3.1),(8.21,3.1),(8.35,5.3),(8.44,3.1),(9.42,3.1),(9.49,3.6),(9.72,3.6),(9.83,5.9),(9.93,3.7),(10.17,3.6),(10.26,5.7),(10.4,5.0),(10.51,5.3),(10.62,3.7),(10.77,6.2),(10.85,6.2),(10.92,2.8),(11.09,2.8),(11.16,8.6),(12.43,8.6),(13.11,8.4),(13.18,6.8),(13.27,8.0),(13.33,5.0),(13.45,3.1),(13.56,5.9),(13.71,4.7),(13.94,3.1),(14.31,2.6),(14.69,2.6),(14.8,4.7),(14.92,3.1),(15.52,3.0),(15.59,5.6),(15.67,3.1),(16.31,3.2),(16.69,3.4),(17.06,3.2),(17.44,3.1),(17.74,3.1),(17.81,8.1),(17.89,9.2),(18.11,9.3),(18.34,9.0),(18.57,8.4),(18.76,9.0),(18.94,8.2),(19.17,7.6),(19.25,8.7),(19.36,7.8),(19.55,7.5),(19.85,7.0),(20.15,5.9),(20.45,4.8),(20.68,4.0),(21.05,2.8),(21.26,1.7),(24,1.7)]
may29_dist = [(0.47,6.0),(0.96,6.0),(1.46,6.0),(1.97,6.0),(2.46,5.7),(3.98,2.2),(4.48,2.9),(4.99,1.7),(5.48,2.6),(5.99,2.8),(6.49,1.7),(6.99,2.0),(7.5,2.9),(8.0,2.1),(8.5,2.0),(9.0,2.9),(9.5,2.2),(10.02,2.9),(10.51,3.4),(11.01,2.9),(11.53,6.1),(12.05,5.6),(12.56,5.2),(13.07,4.3),(13.57,2.0),(14.07,2.4),(14.58,2.4),(15.08,2.2),(15.58,2.6),(16.08,2.4),(16.59,2.3),(17.08,2.6),(17.59,2.2),(18.09,4.3),(18.58,5.7),(19.09,5.3),(19.58,5.3),(20.09,5.2),(20.6,6.0),(21.11,5.5),(21.6,5.4),(22.11,6.0),(22.63,6.0),(23.15,6.0),(23.67,6.0)]

hour_ticks = [0, 6, 12, 18, 24]
hour_labels = ["00:00", "06:00", "12:00", "18:00", "24:00"]

rows_a = list(zip(days_a,
                  [jul04_bouts, jul05_bouts, jul06_bouts, jul07_bouts, jul08_bouts, jul09_bouts, jul10_bouts],
                  [jul04_f, jul05_f, jul06_f, jul07_f, jul08_f, jul09_f, jul10_f],
                  [jul04_m, jul05_m, jul06_m, jul07_m, jul08_m, jul09_m, jul10_m]))
rows_b = list(zip(days_b,
                  [may23_bouts, may24_bouts, may25_bouts, may26_bouts, may27_bouts, may28_bouts, may29_bouts],
                  [may23_light, may24_light, may25_light, may26_light, may27_light, may28_light, may29_light],
                  [may23_dist, may24_dist, may25_dist, may26_dist, may27_dist, may28_dist, may29_dist]))

# ---------------- style ----------------
F_BG = '#FEF4E7'
M_BG = '#EDEDF1'
F_LINE = '#FCB12F'
M_LINE = '#4F5874'
END_C = '#4B8686'
DOT_C = '#F00000'
SUN0 = '#A6A6A6'
SUN6 = '#5A5A5A'
FRAME = '#BDBDBD'
STRIP = '#EFEFEF'
TXT = '#3C3C3C'

W, H = 1211, 1124
fig = plt.figure(figsize=(W / 100, H / 100), dpi=100)
S0, X0, X1 = 38, 130, 1192   # strip left, data left, data right (pixels)


def fx(px):
    return px / W


def fy(py):
    return 1 - py / H


def make_row(y0, h, label):
    ax = fig.add_axes([fx(X0), fy(y0 + h), (X1 - X0) / W, h / H])
    ax.set_xlim(0, 24)
    ax.set_ylim(0, 10)
    ax.set_xticks([])
    ax.set_yticks([])
    for s in ax.spines.values():
        s.set_color(FRAME)
        s.set_linewidth(1.2)
    st = fig.add_axes([fx(S0), fy(y0 + h), (X0 - S0) / W, h / H])
    st.set_facecolor(STRIP)
    st.set_xticks([])
    st.set_yticks([])
    for s in st.spines.values():
        s.set_color(FRAME)
        s.set_linewidth(1.2)
    st.text(0.5, 0.5, label, ha='center', va='center', fontsize=11, color=TXT,
            transform=st.transAxes)
    return ax


def draw_bouts(ax, bouts):
    for s, e, sex in bouts:
        ax.axvspan(s, e, color=F_BG if sex == 'f' else M_BG, lw=0, zorder=0)


def bottom_ticks(ax):
    ax.set_xticks(hour_ticks)
    ax.set_xticklabels(hour_labels)
    ax.tick_params(axis='x', length=5, width=1.2, color=FRAME, labelcolor=TXT,
                   labelsize=11, pad=4)


# ---------------- panel a ----------------
top, bottom = 124, 500
h = (bottom - top) / 7
for i, (day, bouts, fem, mal) in enumerate(rows_a):
    ax = make_row(top + i * h, h, day)
    draw_bouts(ax, bouts)
    ax.plot([p[0] for p in mal], [p[1] for p in mal], color=M_LINE, lw=1.7, zorder=2)
    ax.plot([p[0] for p in fem], [p[1] for p in fem], color=F_LINE, lw=1.7, zorder=3)
    if i == incubation_end[0]:
        ax.axvspan(incubation_end[1], incubation_end[2], color=END_C, lw=0, zorder=4)
    if i == 6:
        bottom_ticks(ax)

# ---------------- panel b ----------------
top, bottom = 696, 1073
h = (bottom - top) / 7
for i, (day, bouts, light, dist) in enumerate(rows_b):
    ax = make_row(top + i * h, h, day)
    draw_bouts(ax, bouts)
    ax.broken_barh([(0, sun_rise0[i]), (sun_set0[i], 24 - sun_set0[i])], (0.02, 1.2),
                   color=SUN0, lw=0, zorder=1)
    ax.broken_barh([(0, sun_dawn6[i]), (sun_dusk6[i], 24 - sun_dusk6[i])], (0.02, 1.2),
                   color=SUN6, lw=0, zorder=1.5)
    ax.plot([p[0] for p in light], [p[1] for p in light], color=F_LINE, lw=1.7, zorder=2)
    ax.scatter([p[0] for p in dist], [p[1] for p in dist], s=13, color=DOT_C, lw=0, zorder=3)
    if i == 6:
        bottom_ticks(ax)

# ---------------- titles & labels ----------------
fig.text(fx(48), fy(26), "a", fontsize=13, fontweight='bold', color='#111111', ha='center', va='center')
fig.text(fx(48), fy(587), "b", fontsize=13, fontweight='bold', color='#111111', ha='center', va='center')
fig.text(fx(615), fy(20), "Calidris pusilla, 2013, nest: 112SESA", fontsize=13, color=TXT, ha='center', va='center')
fig.text(fx(615), fy(594), "Limosa limosa, 2014, nest: 1415901803", fontsize=12.5, color=TXT, ha='center', va='center')
for yy in (544, 1115):
    fig.text(fx(661), fy(yy), "Time (h)", fontsize=12.5, color=TXT, ha='center', va='center')
for yy in (312, 884):
    fig.text(fx(18), fy(yy), "Date", fontsize=12.5, color=TXT, ha='center', va='center', rotation=90)


# ---------------- legends ----------------
def leg_text(x, y, s):
    fig.text(fx(x), fy(y), s, fontsize=10.5, color=TXT, ha='left', va='center')


def leg_box(x, y, color, size=10):
    fig.patches.append(Rectangle((fx(x), fy(y + size / 2)), size / W, size / H,
                                 transform=fig.transFigure, color=color, lw=0))


def leg_line(x, y, color):
    fig.add_artist(Line2D([fx(x), fx(x + 32)], [fy(y), fy(y)], transform=fig.transFigure,
                          color=color, lw=1.7))


leg_text(297, 62, "♀ extracted incubation bout")
leg_text(297, 80, "♂ extracted incubation bout")
leg_box(496, 61, F_BG)
leg_box(496, 79, M_BG)
leg_text(539, 62, "♀ light intensity ( ln(lux) )")
leg_text(539, 80, "♂ light intensity ( ln(lux) )")
leg_line(728, 61, F_LINE)
leg_line(728, 78, M_LINE)
leg_text(794, 62, "incubation end")
leg_box(906, 61, END_C)

leg_text(317, 635, "♀ extracted incubation bout")
leg_text(317, 652, "♂ extracted incubation bout")
leg_box(515, 634, F_BG)
leg_box(515, 651, M_BG)
leg_text(556, 635, "♀ light intensity ( ln(lux) )")
leg_text(556, 652, "♀ distance from nest ( ln(m) )")
leg_line(760, 633, F_LINE)
fig.add_artist(Line2D([fx(775)], [fy(651)], transform=fig.transFigure, marker='o',
                      markersize=4, color=DOT_C, lw=0))
leg_text(826, 635, "sun <  0°")
leg_text(826, 652, "sun < –6°")
leg_box(906, 634, SUN0)
leg_box(906, 651, SUN6)

fig.savefig("out.png", dpi=100)
